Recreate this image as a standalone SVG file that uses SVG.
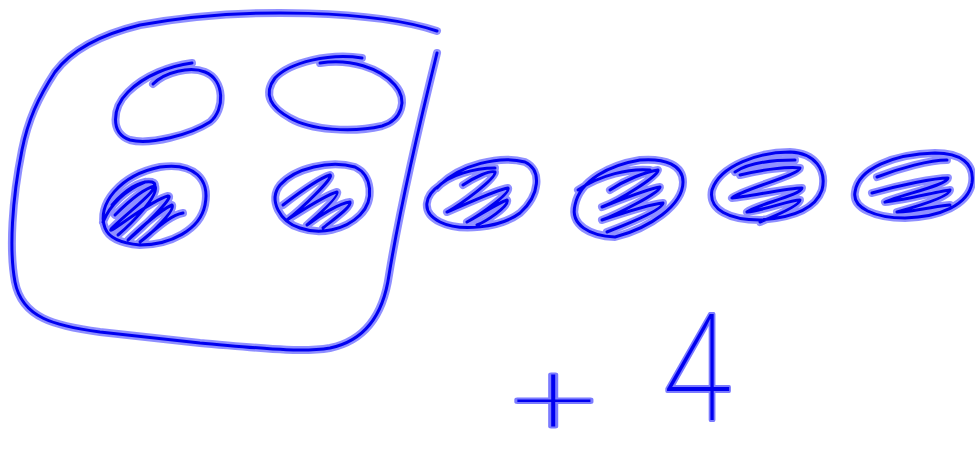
<svg xmlns="http://www.w3.org/2000/svg" xmlns:xlink="http://www.w3.org/1999/xlink" width="975" height="461" viewBox="0 0 975 461">
<style>
.h{fill:none;stroke:#7b7bff;stroke-width:8;stroke-linecap:round;stroke-linejoin:round;stroke-opacity:0.85}
.c{fill:none;stroke:#0000f0;stroke-width:3;stroke-linecap:round;stroke-linejoin:round}
.t{fill:#0000f0;stroke:#7b7bff;stroke-width:4;paint-order:stroke;stroke-linejoin:round;font-family:Roboto,"Liberation Sans",sans-serif;font-weight:100}
</style>
<defs>
<path id="pFrame" d="M437,31 C380,12 250,5 140,25 C95,36 70,52 55,72 C38,98 28,120 22,150 C12,200 9,250 15,282 C22,318 55,326 100,332 L200,343 C260,348 300,353 330,348 C368,340 384,310 389,275 C398,220 413,150 437,53"/>
<path id="pE1" d="M153,84 C165,72 190,66 205,72 C225,80 225,110 210,122 C190,135 150,145 130,140 C110,133 112,108 128,92 C145,75 170,66 192,63"/>
<path id="pE2" d="M320,63 C350,58 380,68 395,85 C408,100 402,120 382,126 C352,133 310,130 290,118 C272,108 262,95 275,78 C290,62 330,53 362,58"/>
<path id="pE3" d="M105,228 C96,205 120,175 160,167 C195,162 210,180 205,205 C200,230 170,245 140,245 C118,243 108,236 105,228 M112,205 C125,190 140,180 152,182 C165,186 130,210 112,228 C102,240 150,200 168,196 C176,196 140,230 128,240 C135,233 160,210 172,205 C176,210 150,235 140,242 C155,230 170,215 183,213 M103,222 C110,205 125,190 145,182 M115,215 C130,200 145,188 155,186 C160,195 130,225 118,235"/>
<path id="pE4" d="M280,185 C295,168 330,160 355,167 C372,175 375,200 360,215 C345,230 320,235 300,228 C280,222 268,200 280,185 M283,205 C300,192 320,178 330,175 C335,177 300,210 287,220 C300,212 325,195 337,192 C340,196 315,218 307,225 C320,215 340,203 350,202 C352,207 330,222 323,228"/>
<path id="pE5" d="M440,185 C460,165 500,155 525,162 C542,170 540,195 520,213 C500,228 460,232 440,222 C420,212 425,195 440,185 M437,188 C448,175 475,168 495,168 M463,185 C475,177 490,170 495,172 C497,178 460,205 447,212 C465,205 495,190 508,188 C511,193 480,215 467,222 C480,215 498,203 507,200 C510,206 485,222 477,225"/>
<path id="pE6" d="M575,205 C580,180 610,165 640,160 C665,158 683,165 683,182 C683,205 650,228 615,237 C590,236 570,225 575,205 M578,190 C600,175 630,168 650,170 M610,190 C625,180 645,172 658,170 C660,175 620,200 602,207 C620,200 650,188 660,187 C662,192 615,215 602,220 C620,214 650,204 663,203 C663,210 625,225 607,232"/>
<path id="pE7" d="M712,190 C720,165 760,152 790,152 C815,153 827,170 822,190 C815,210 790,218 760,220 C730,220 708,210 712,190 M735,172 C750,162 775,160 795,160 M740,175 C760,170 790,166 800,168 C800,175 740,190 732,198 C750,196 790,188 802,188 C802,195 755,205 747,212 C765,210 790,200 800,200 C800,206 770,218 760,222"/>
<path id="pE8" d="M855,192 C858,168 895,154 935,153 C960,153 975,163 972,183 C968,205 940,217 905,218 C875,218 852,208 855,192 M877,177 C900,168 930,160 947,160 M872,193 C900,185 935,178 948,178 C948,185 900,195 885,202 C905,200 940,191 950,190 C950,197 915,207 897,212 C915,212 940,205 950,205"/>
</defs>
<g id="frame"><use xlink:href="#pFrame" class="h"/><use xlink:href="#pFrame" class="c"/></g>
<g id="circle1"><use xlink:href="#pE1" class="h"/><use xlink:href="#pE1" class="c"/></g>
<g id="circle2"><use xlink:href="#pE2" class="h"/><use xlink:href="#pE2" class="c"/></g>
<g id="dot1"><use xlink:href="#pE3" class="h"/><use xlink:href="#pE3" class="c"/></g>
<g id="dot2"><use xlink:href="#pE4" class="h"/><use xlink:href="#pE4" class="c"/></g>
<g id="dot3"><use xlink:href="#pE5" class="h"/><use xlink:href="#pE5" class="c"/></g>
<g id="dot4"><use xlink:href="#pE6" class="h"/><use xlink:href="#pE6" class="c"/></g>
<g id="dot5"><use xlink:href="#pE7" class="h"/><use xlink:href="#pE7" class="c"/></g>
<g id="dot6"><use xlink:href="#pE8" class="h"/><use xlink:href="#pE8" class="c"/></g>
<g id="label"><text class="t" transform="translate(512,434) scale(1.5,1)" x="0" y="0" font-size="100">+</text><text class="t" transform="translate(662,420) scale(0.85,1)" x="0" y="0" font-size="148">4</text></g>
</svg>
